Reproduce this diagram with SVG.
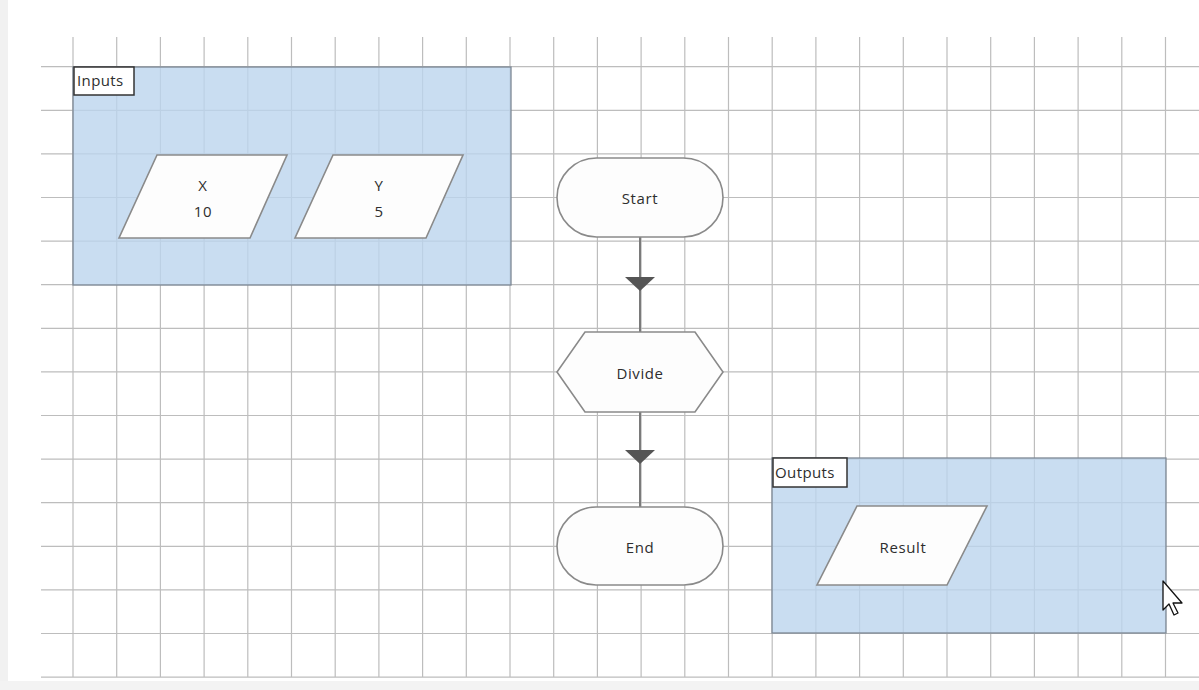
<svg xmlns="http://www.w3.org/2000/svg" width="1199" height="690" viewBox="0 0 1199 690">
<style>
.grid{stroke:#bdbdbd;stroke-width:1.2;fill:none}
.group{fill:#bcd5ee;fill-opacity:0.8;stroke:#7d8894;stroke-width:1.3}
.lbox{fill:#ffffff;stroke:#333333;stroke-width:1.5}
.shape{fill:#fdfdfd;stroke:#8a8a8a;stroke-width:1.6}
.t{font-family:"Open Sans","Noto Sans",sans-serif;font-size:15px;letter-spacing:0.6px;fill:#2e2e2e;text-anchor:middle;dominant-baseline:central}
.lt{font-family:"Open Sans","Noto Sans",sans-serif;font-size:15px;letter-spacing:0.4px;fill:#2e2e2e}
.conn{stroke:#7a7a7a;stroke-width:2;fill:none;marker-mid:url(#tri)}
</style>
<defs>
<marker id="tri" viewBox="0 0 14 30" refX="14" refY="15" markerWidth="14" markerHeight="30" markerUnits="userSpaceOnUse" orient="auto">
<path d="M0,0 L14,15 L0,30 Z" fill="#555555"/>
</marker>
</defs>
<rect x="0" y="0" width="1199" height="690" fill="#ffffff"/>
<rect x="0" y="0" width="8" height="690" fill="#f1f1f1"/>
<rect x="0" y="681" width="1199" height="9" fill="#f3f3f3"/>
<g id="grid">
<path class="grid" d="M41,66.7H1199M41,110.3H1199M41,153.9H1199M41,197.5H1199M41,241.1H1199M41,284.7H1199M41,328.3H1199M41,371.9H1199M41,415.5H1199M41,459.1H1199M41,502.7H1199M41,546.3H1199M41,589.9H1199M41,633.5H1199M41,677.1H1199"/>
<path class="grid" d="M73,37V677M116.7,37V677M160.4,37V677M204.1,37V677M247.8,37V677M291.5,37V677M335.2,37V677M378.9,37V677M422.6,37V677M466.3,37V677M510,37V677M553.7,37V677M597.4,37V677M641.1,37V677M684.8,37V677M728.5,37V677M772.2,37V677M815.9,37V677M859.6,37V677M903.3,37V677M947,37V677M990.7,37V677M1034.4,37V677M1078.1,37V677M1121.8,37V677M1165.5,37V677"/>
</g>
<g id="inputs">
<rect class="group" x="73" y="67" width="438" height="218"/>
<rect class="lbox" x="74" y="67" width="60" height="28"/>
<text class="lt" x="77" y="86">Inputs</text>
</g>
<g id="outputs">
<rect class="group" x="772" y="458" width="394" height="175"/>
<rect class="lbox" x="773" y="458" width="74" height="29"/>
<text class="lt" x="775" y="478">Outputs</text>
</g>
<g id="input-x">
<polygon class="shape" points="157,155 287,155 250,238 119,238"/>
<text class="t" x="203" y="185">X</text>
<text class="t" x="203" y="211">10</text>
</g>
<g id="input-y">
<polygon class="shape" points="333,155 463,155 426,238 295,238"/>
<text class="t" x="379" y="185">Y</text>
<text class="t" x="379" y="211">5</text>
</g>
<g id="connectors">
<path class="conn" d="M640,237 L640,291 L640,332"/>
<path class="conn" d="M640,412 L640,464 L640,507"/>
</g>
<g id="start">
<rect class="shape" x="557" y="158" width="166" height="79" rx="39.5" ry="39.5"/>
<text class="t" x="640" y="198">Start</text>
</g>
<g id="divide">
<polygon class="shape" points="585,332 695,332 723,372 695,412 585,412 557,372"/>
<text class="t" x="640" y="373">Divide</text>
</g>
<g id="end">
<rect class="shape" x="557" y="507" width="166" height="78" rx="39" ry="39"/>
<text class="t" x="640" y="547">End</text>
</g>
<g id="result">
<polygon class="shape" points="857,506 987,506 947,585 817,585"/>
<text class="t" x="903" y="547">Result</text>
</g>
<g id="cursor">
<path d="M1163,581 L1163,610 L1169,604 L1174,615 L1178,613 L1173,603 L1182,603 Z" fill="#ffffff" stroke="#111111" stroke-width="1.3" stroke-linejoin="round"/>
</g>
</svg>
